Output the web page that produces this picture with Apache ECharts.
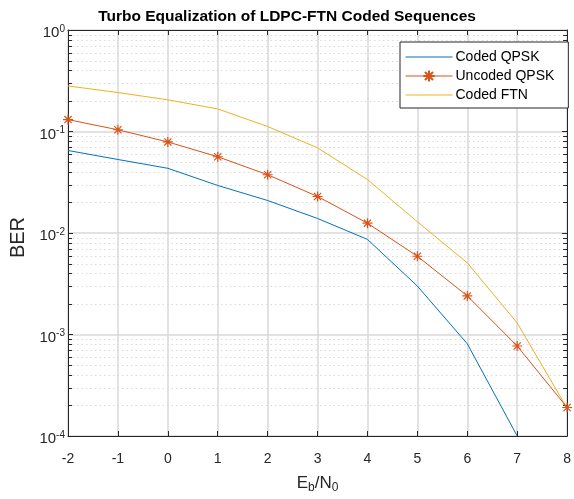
<!DOCTYPE html>
<html>
<head>
<meta charset="utf-8">
<script src="https://cdn.jsdelivr.net/npm/echarts@6/dist/echarts.min.js"></script>
<style>
html,body{margin:0;padding:0;background:#fff;}
#chart{width:574px;height:499px;}
</style>
</head>
<body>
<div id="chart"></div>
<script>
// ---- data ----
const ebn0 = [-2, -1, 0, 1, 2, 3, 4, 5, 6, 7, 8];
const codedQPSK   = [0.065, 0.053, 0.0434, 0.0294, 0.0209, 0.0139, 0.00865, 0.0030, 0.00081, 0.0001, null];
const uncodedQPSK = [0.131, 0.104, 0.0789, 0.0564, 0.0375, 0.0229, 0.0125, 0.0059, 0.0024, 0.00077, 0.000191];
const codedFTN    = [0.281, 0.242, 0.205, 0.167, 0.112, 0.069, 0.0336, 0.0129, 0.00508, 0.0013, 0.000188];
const seriesNames = ['Coded QPSK', 'Uncoded QPSK', 'Coded FTN'];
const titleText = 'Turbo Equalization of LDPC-FTN Coded Sequences';

// minor tick values for the log axis (2..9 x 10^k)
const minorVals = [];
for (let k = -4; k < 0; k++) {
  for (let m = 2; m <= 9; m++) minorVals.push(m * Math.pow(10, k));
}

const axisColor = '#262626';
const font = 'Liberation Sans, Arial, Helvetica, sans-serif';
const asterisk = 'path://M0,-5L0,5M-5,0L5,0M-3.6,-3.6L3.6,3.6M-3.6,3.6L3.6,-3.6';

const chart = echarts.init(document.getElementById('chart'), null, {renderer: 'canvas'});

function pairs(arr) { return ebn0.map((x, i) => [x, arr[i]]); }

const supRich = {
  b: {fontSize: 15, fontFamily: font, color: axisColor},
  s: {fontSize: 10, fontFamily: font, color: axisColor, padding: [0, 0, 8, 0]}
};

const option = {
  animation: false,
  backgroundColor: '#fff',
  title: {
    text: titleText,
    left: 'center',
    top: 4,
    textStyle: {fontSize: 15.5, fontWeight: 'bold', fontFamily: font, color: '#000'}
  },
  legend: {
    data: [
      {name: seriesNames[0], itemStyle: {opacity: 0}},
      {name: seriesNames[1]},
      {name: seriesNames[2], itemStyle: {opacity: 0}}
    ],
    orient: 'vertical',
    left: 400,
    top: 42,
    padding: [8, 14, 6, 5],
    itemGap: 5,
    itemWidth: 47,
    itemHeight: 14,
    backgroundColor: '#fff',
    borderColor: axisColor,
    borderWidth: 1,
    borderRadius: 0,
    lineStyle: {width: 1},
    textStyle: {fontSize: 14, fontFamily: font, color: '#000', padding: [0, 0, 0, -2]}
  },
  grid: {left: 68, right: 3, top: 30, bottom: 58, containLabel: false},
  xAxis: [
    {
      type: 'value', position: 'bottom', min: -2, max: 8, interval: 1,
      name: '{a|E}{sub|b}{a|/N}{sub|0}',
      nameLocation: 'middle', nameGap: 36,
      nameTextStyle: {
        rich: {
          a: {fontSize: 17, fontFamily: font, color: axisColor},
          sub: {fontSize: 12, fontFamily: font, color: axisColor, padding: [10, 0, 0, 0]}
        }
      },
      axisLine: {show: true, onZero: false, lineStyle: {color: axisColor, width: 1}},
      axisTick: {show: true, inside: true, length: 5, lineStyle: {color: axisColor}},
      axisLabel: {show: true, margin: 16, fontSize: 14, fontFamily: font, color: axisColor},
      splitLine: {show: true, lineStyle: {color: '#d9d9d9', width: 1.5}}
    },
    {
      type: 'value', position: 'top', min: -2, max: 8, interval: 1,
      axisLine: {show: true, onZero: false, lineStyle: {color: axisColor, width: 1}},
      axisTick: {show: true, inside: true, length: 5, lineStyle: {color: axisColor}},
      axisLabel: {show: false},
      splitLine: {show: false}
    }
  ],
  yAxis: [
    {
      type: 'log', logBase: 10, min: 1e-4, max: 1, position: 'left',
      name: 'BER', nameLocation: 'middle', nameGap: 35,
      nameTextStyle: {fontSize: 20, fontFamily: font, color: axisColor, padding: [0, 9, 0, 0]},
      axisLine: {show: true, onZero: false, lineStyle: {color: axisColor, width: 1}},
      axisTick: {show: true, inside: true, length: 5, lineStyle: {color: axisColor}},
      axisLabel: {
        show: true, margin: 3, padding: [6, 0, 0, 0],
        formatter: function (v) {
          const e = Math.round(Math.log10(v));
          return '{b|10}{s|' + e + '}';
        },
        rich: supRich
      },
      splitLine: {show: true, lineStyle: {color: '#d9d9d9', width: 1.5}}
    },
    {
      type: 'log', logBase: 10, min: 1e-4, max: 1, position: 'right',
      axisLine: {show: true, onZero: false, lineStyle: {color: axisColor, width: 1}},
      axisTick: {show: true, inside: true, length: 5, lineStyle: {color: axisColor}},
      axisLabel: {show: false},
      splitLine: {show: false}
    }
  ],
  series: [
    {
      name: 'minor', type: 'custom', xAxisIndex: 0, yAxisIndex: 0,
      silent: true, z: 1, clip: false,
      data: minorVals.map(v => [ -2, v ]),
      renderItem: function (params, api) {
        const cs = params.coordSys;
        const y = Math.round(api.coord([-2, api.value(1)])[1]) + 0.5;
        const x0 = cs.x, x1 = cs.x + cs.width;
        return {
          type: 'group',
          children: [
            {type: 'line', shape: {x1: x0, y1: y, x2: x1, y2: y},
             style: {stroke: '#dadada', lineWidth: 1, lineDash: [1.5, 3]}, z2: 0},
            {type: 'line', shape: {x1: x0, y1: y, x2: x0 + 4, y2: y},
             style: {stroke: axisColor, lineWidth: 1}, z2: 5},
            {type: 'line', shape: {x1: x1 - 4, y1: y, x2: x1, y2: y},
             style: {stroke: axisColor, lineWidth: 1}, z2: 5}
          ]
        };
      }
    },
    {
      name: seriesNames[0], type: 'line', data: pairs(codedQPSK),
      symbol: 'none', lineStyle: {color: '#0072BD', width: 1}, itemStyle: {color: '#0072BD'},
      z: 3
    },
    {
      name: seriesNames[1], type: 'line', data: pairs(uncodedQPSK),
      symbol: asterisk, symbolSize: 10, showSymbol: true, clip: false,
      lineStyle: {color: '#D95319', width: 1},
      itemStyle: {color: 'rgba(0,0,0,0)', borderColor: '#D95319', borderWidth: 1.2},
      z: 4
    },
    {
      name: seriesNames[2], type: 'line', data: pairs(codedFTN),
      symbol: 'none', lineStyle: {color: '#EDB120', width: 1}, itemStyle: {color: '#EDB120'},
      z: 3
    }
  ]
};
chart.setOption(option);
</script>
</body>
</html>
